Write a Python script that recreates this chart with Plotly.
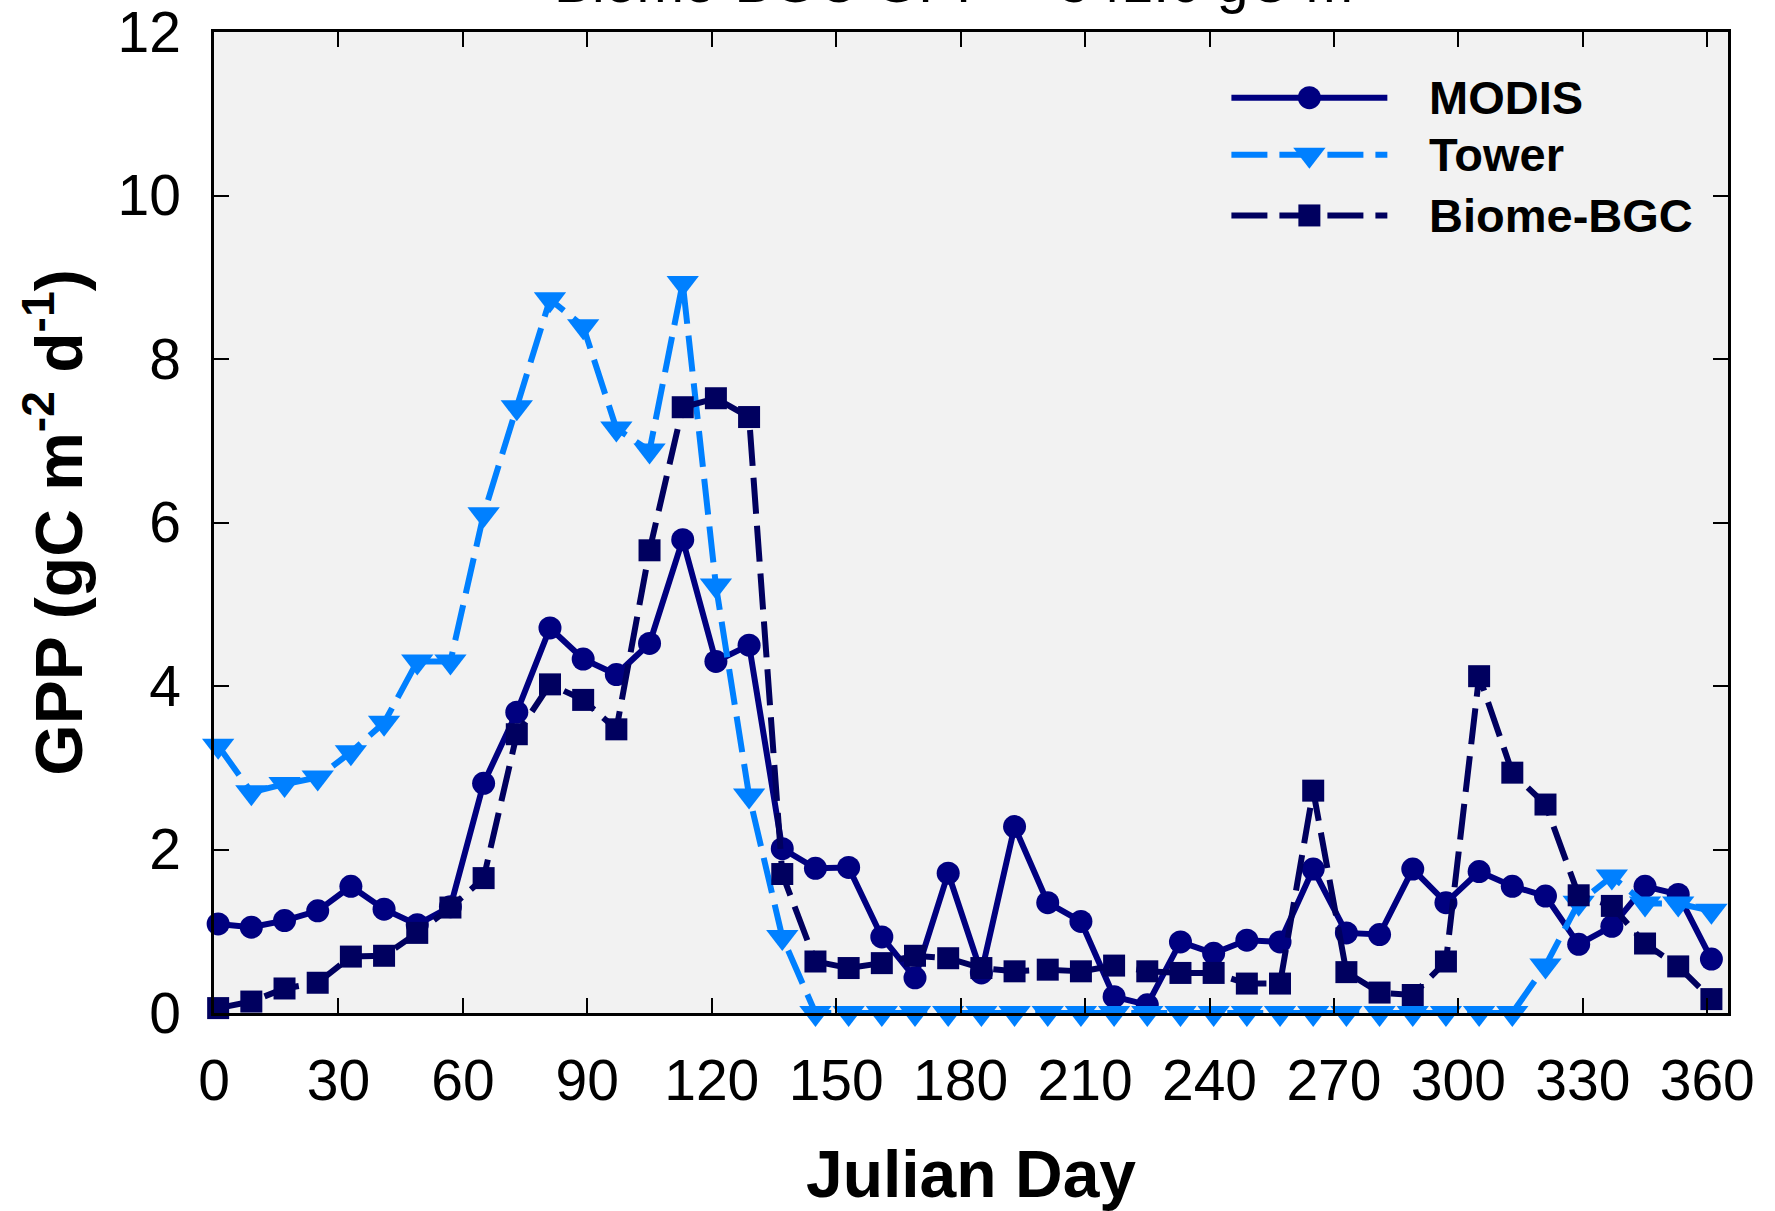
import plotly.graph_objects as go

# Julian day of each 8-day composite
days = [1, 9, 17, 25, 33, 41, 49, 57, 65, 73, 81, 89, 97, 105, 113, 121, 129, 137,
        145, 153, 161, 169, 177, 185, 193, 201, 209, 217, 225, 233, 241, 249, 257,
        265, 273, 281, 289, 297, 305, 313, 321, 329, 337, 345, 353, 361]

# GPP (gC m-2 d-1)
modis = [1.09, 1.05, 1.13, 1.25, 1.55, 1.27, 1.08, 1.30, 2.81, 3.68, 4.71, 4.33, 4.14, 4.52,
         5.79, 4.30, 4.50, 2.01, 1.77, 1.78, 0.93, 0.43, 1.71, 0.49, 2.28, 1.35, 1.12, 0.20,
         0.10, 0.87, 0.73, 0.89, 0.87, 1.76, 0.98, 0.96, 1.76, 1.35, 1.73, 1.55, 1.43, 0.84,
         1.06, 1.55, 1.45, 0.66]

tower = [3.27, 2.70, 2.80, 2.88, 3.19, 3.55, 4.30, 4.30, 6.10, 7.41, 8.73, 8.40, 7.15, 6.88,
         8.93, 5.23, 2.66, 0.93, 0, 0, 0, 0, 0, 0, 0, 0, 0, 0,
         0, 0, 0, 0, 0, 0, 0, 0, 0, 0, 0, 0, 0.58, 1.35,
         1.67, 1.34, 1.34, 1.25]

biome = [0.06, 0.14, 0.30, 0.37, 0.69, 0.70, 0.98, 1.29, 1.65, 3.41, 4.02, 3.83, 3.47, 5.66,
         7.41, 7.52, 7.29, 1.70, 0.63, 0.55, 0.61, 0.70, 0.67, 0.55, 0.51, 0.53, 0.51, 0.58,
         0.51, 0.49, 0.49, 0.36, 0.36, 2.72, 0.50, 0.25, 0.22, 0.63, 4.12, 2.94, 2.55, 1.44,
         1.31, 0.85, 0.57, 0.17]

x_ticks = list(range(0, 361, 30))
y_ticks = list(range(0, 13, 2))

series_names = ["MODIS", "Tower", "Biome-BGC"]
title_text = "Biome-BGC GPP = 541.6 gC m<sup>-2</sup>"

FONT = "Liberation Sans, Arial, Helvetica, sans-serif"
C_MODIS = "#000080"
C_TOWER = "#0080ff"
C_BIOME = "#00005f"
DASH = "36px,12px"

styles = [
    dict(color=C_MODIS, dash="solid", symbol="circle", size=23),
    dict(color=C_TOWER, dash=DASH, symbol="triangle-down", size=28),
    dict(color=C_BIOME, dash=DASH, symbol="square", size=22),
]

fig = go.Figure()
for name, ys, st in zip(series_names, [modis, tower, biome], styles):
    fig.add_trace(go.Scatter(
        x=days, y=ys, name=name, mode="lines+markers",
        line=dict(color=st["color"], width=6, dash=st["dash"]),
        marker=dict(symbol=st["symbol"], size=st["size"], color=st["color"],
                    line=dict(width=0)),
        showlegend=False, cliponaxis=False,
    ))

# Legend drawn on an overlay axis spanning the plot area (0..1 in both directions)
leg_x0, leg_x1, leg_txt = 0.672, 0.775, 0.801
leg_rows = [0.933, 0.875, 0.813]
for name, st, ry in zip(series_names, styles, leg_rows):
    fig.add_trace(go.Scatter(
        x=[leg_x0, leg_x1], y=[ry, ry], xaxis="x2", yaxis="y2", mode="lines",
        line=dict(color=st["color"], width=6, dash=st["dash"]),
        showlegend=False, hoverinfo="skip",
    ))
    fig.add_trace(go.Scatter(
        x=[(leg_x0 + leg_x1) / 2], y=[ry], xaxis="x2", yaxis="y2", mode="markers",
        marker=dict(symbol=st["symbol"], size=st["size"], color=st["color"],
                    line=dict(width=0), opacity=1),
        showlegend=False, hoverinfo="skip",
    ))
    fig.add_annotation(x=leg_txt, y=ry, xref="x2", yref="y2", text="<b>%s</b>" % name,
                       showarrow=False, xanchor="left", yanchor="middle",
                       font=dict(family=FONT, size=47, color="black"))

fig.add_annotation(x=0.5, y=1.0163, xref="paper", yref="paper", text=title_text,
                   showarrow=False, xanchor="center", yanchor="bottom",
                   font=dict(family=FONT, size=57, color="black"))

axis_common = dict(
    showline=True, linecolor="black", linewidth=2.5, mirror="ticks",
    ticks="inside", ticklen=15, tickwidth=2, tickcolor="black",
    showgrid=False, zeroline=False, ticklabeloverflow="allow", automargin=False,
    tickfont=dict(family=FONT, size=57, color="black"),
)

fig.update_layout(
    width=1775, height=1211,
    margin=dict(l=214, r=47, t=32, b=198),
    paper_bgcolor="white", plot_bgcolor="#f2f2f2",
    xaxis=dict(range=[0, 365], tickvals=x_ticks, ticklabelstandoff=16,
               title=dict(text="<b>Julian Day</b>", standoff=42,
                          font=dict(family=FONT, size=66, color="black")),
               **axis_common),
    yaxis=dict(range=[0, 12], tickvals=y_ticks, ticklabelstandoff=19,
               title=dict(text="<b>GPP (gC m<sup>-2</sup> d<sup>-1</sup>)</b>", standoff=14,
                          font=dict(family=FONT, size=66, color="black")),
               **axis_common),
    xaxis2=dict(range=[0, 1], overlaying="x", visible=False, fixedrange=True),
    yaxis2=dict(range=[0, 1], overlaying="y", visible=False, fixedrange=True),
    showlegend=False,
)

fig.write_html("out.html")
